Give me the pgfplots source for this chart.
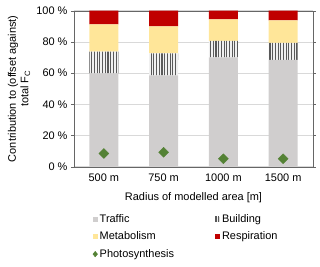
\documentclass[border=0pt]{standalone}
\usepackage{pgfplots}
\pgfplotsset{compat=1.18}
\usepackage{fontspec}
\setmainfont{Liberation Sans}
\usetikzlibrary{patterns,patterns.meta}
\definecolor{traffic}{HTML}{D0CECE}
\definecolor{building}{HTML}{595959}
\definecolor{metab}{HTML}{FFE699}
\definecolor{resp}{HTML}{C00000}
\definecolor{photo}{HTML}{548235}
\tikzset{bldg/.style={fill=gray!12, postaction={pattern={Lines[angle=90, distance=2.7bp, line width=1.1bp]}, pattern color=building}}}
\begin{document}
\begin{tikzpicture}[x=1bp,y=1bp]
\begin{axis}[
  at={(0bp,0bp)}, anchor=south west,
  scale only axis, width=239bp, height=156bp,
  font=\fontsize{11}{12.5}\selectfont,
  ybar stacked, bar width=29bp,
  xmin=-0.5, xmax=3.5, ymin=0, ymax=100,
  xtick={0,1,2,3}, xticklabels={500 m,750 m,1000 m,1500 m},
  x tick style={draw=none},
  ytick={0,20,40,60,80,100},
  yticklabels={0 \%,20 \%,40 \%,60 \%,80 \%,100 \%},
  y tick style={draw=gray!80!black, thin},
  tick align=outside, major tick length=3bp,
  ymajorgrids, grid style={draw=gray!30, line width=0.8pt},
  axis line style={draw=gray!80!black, thin},
  xlabel={Radius of modelled area [m]},
  ylabel={Contribution to (offset against)\\ total F\textsubscript{C}},
  ylabel style={align=center, at={(axis description cs:-0.23,0.5)}, anchor=center},
  xlabel style={at={(axis description cs:0.5,-0.2)}, anchor=center},
  xticklabel style={yshift=-1bp},
  legend style={draw=none, fill=none, at={(axis description cs:0.065,-0.28)}, anchor=north west,
    font=\fontsize{11}{12.5}\selectfont, /tikz/every even column/.append style={column sep=39bp},
    row sep=4bp},
  legend cell align=left, legend columns=2,
]
\addplot[fill=traffic, draw=none, legend image code/.code={\fill[traffic] (0bp,-2.5bp) rectangle (5bp,2.5bp);}] coordinates {(0,59.9) (1,58.6) (2,70.1) (3,68.4)};
\addlegendentry{Traffic}
\addplot[bldg, draw=none, legend image code/.code={\fill[fill=gray!12] (0bp,-2.5bp) rectangle (5bp,2.5bp); \fill[building] (1bp,-2.5bp) rectangle (1.8bp,2.5bp) (3.2bp,-2.5bp) rectangle (4bp,2.5bp);}] coordinates {(0,13.8) (1,14.1) (2,10.5) (3,10.9)};
\addlegendentry{Building}
\addplot[fill=metab, draw=none, legend image code/.code={\fill[metab] (0bp,-2.5bp) rectangle (5bp,2.5bp);}] coordinates {(0,17.6) (1,17.3) (2,13.8) (3,14.5)};
\addlegendentry{Metabolism}
\addplot[fill=resp, draw=none, legend image code/.code={\fill[resp] (0bp,-2.5bp) rectangle (5bp,2.5bp);}] coordinates {(0,8.7) (1,10.0) (2,5.6) (3,6.2)};
\addlegendentry{Respiration}
\addplot[stack plots=false, sharp plot, only marks, mark=square*, mark size=3.5bp, mark options={rotate=45, fill=photo, draw=photo}, draw=photo, forget plot] coordinates {(0,8.5) (1,9.2) (2,5.1) (3,5.1)};
\addlegendimage{legend image code/.code={\fill[photo] (2.5bp,-2.8bp) -- (4.8bp,0bp) -- (2.5bp,2.8bp) -- (0.2bp,0bp) -- cycle;}}
\addlegendentry{Photosynthesis}
\end{axis}
\pgfresetboundingbox
\path (-74bp,-100.3bp) rectangle (246bp,166.7bp);
\end{tikzpicture}
\end{document}
